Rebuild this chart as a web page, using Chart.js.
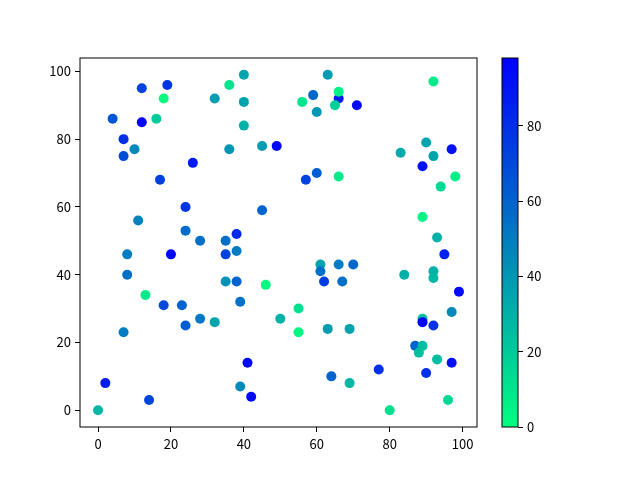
<!DOCTYPE html>
<html>
<head>
<meta charset="utf-8">
<script src="https://cdn.jsdelivr.net/npm/chart.js@4/dist/chart.umd.min.js"></script>
<style>
  body { margin:0; background:#fff; }
  #wrap { position:relative; width:640px; height:480px; }
  canvas { position:absolute; top:0; }
</style>
</head>
<body>
<div id="wrap">
  <canvas id="main" width="640" height="480" style="left:0"></canvas>
  <canvas id="cbar" width="150" height="480" style="left:490px"></canvas>
</div>
<script>
// scatter data
var xs = [40,36,19,12,18,32,40,4,12,16,40,7,10,7,36,45,49,26,17,24,45,11,24,28,35,38,
          63,92,66,66,59,56,65,60,71,90,83,92,97,89,60,57,66,98,94,89,93,
          35,38,8,20,8,35,38,46,13,39,18,23,28,32,24,7,50,41,2,39,14,42,0,
          95,61,66,70,61,84,92,92,62,67,99,55,97,89,89,92,55,63,69,87,89,88,93,97,77,90,64,69,96,80];
var ys = [99,96,96,95,92,92,91,86,85,86,84,80,77,75,77,78,78,73,68,60,59,56,53,50,50,52,
          99,97,92,94,93,91,90,88,90,79,76,75,77,72,70,68,69,69,66,57,51,
          46,47,46,46,40,38,38,37,34,32,31,31,27,26,25,23,27,14,8,7,3,4,0,
          46,43,43,43,41,40,41,39,38,38,35,30,29,27,26,25,23,24,24,19,19,17,15,14,12,11,10,8,3,0];
var cs = [35,10,78,72,2,38,35,65,97,20,30,80,45,68,40,38,95,88,73,78,60,48,57,55,55,82,
          38,8,88,5,58,10,18,40,95,35,33,35,92,92,62,72,8,6,15,4,30,
          72,50,50,97,55,42,60,2,8,55,70,60,52,35,62,50,30,95,88,45,72,95,28,
          85,35,50,58,55,30,30,28,75,55,95,12,45,25,98,78,3,38,35,60,25,25,25,92,80,80,60,28,15,12];
var tickVals = [0,20,40,60,80,100];
var cbarTicks = [0,20,40,60,80];
var cMin = 0, cMax = 98;

var fontFam = "'Noto Sans CJK SC', 'Noto Sans', sans-serif";

// matplotlib "winter": green -> blue
function winter(c){
  var t = (c - cMin)/(cMax - cMin);
  return 'rgb(0,' + Math.round(255*(1-t)) + ',' + Math.round(255*(0.5+0.5*t)) + ')';
}

var pts = [];
for(let i=0;i<xs.length;i++){
  pts.push({x: xs[i], y: ys[i]});
}
var colors = cs.map(winter);

const boxPlugin = {
  id: 'box',
  afterDraw(chart){
    const a = chart.chartArea, ctx = chart.ctx;
    ctx.save();
    ctx.strokeStyle = '#000';
    ctx.lineWidth = 1;
    ctx.strokeRect(a.left, a.top, a.right - a.left, a.bottom - a.top);
    ctx.restore();
  }
};

function fixTicks(vals){
  return function(scale){
    scale.ticks = vals.map(v => ({value: v}));
  };
}

new Chart(document.getElementById('main'), {
  type: 'scatter',
  data: {
    datasets: [{
      data: pts,
      pointBackgroundColor: colors,
      pointBorderColor: colors,
      pointBorderWidth: 0,
      pointRadius: 5,
      pointHoverRadius: 5
    }]
  },
  options: {
    responsive: false,
    animation: false,
    devicePixelRatio: 1,
    layout: { padding: { left: 30, top: 58, right: 163, bottom: 13 } },
    plugins: { legend: { display: false }, tooltip: { enabled: false } },
    scales: {
      x: {
        type: 'linear', min: -4.95, max: 103.95,
        afterBuildTicks: fixTicks(tickVals),
        afterFit: function(s){ s.height = 40; },
        grid: { drawOnChartArea: false, tickLength: 5, color: '#000' },
        border: { display: false },
        ticks: { color: '#000', padding: 4, font: { family: fontFam, size: 13 } }
      },
      y: {
        type: 'linear', min: -4.95, max: 103.95,
        afterBuildTicks: fixTicks(tickVals),
        afterFit: function(s){ s.width = 50; },
        grid: { drawOnChartArea: false, tickLength: 5, color: '#000' },
        border: { display: false },
        ticks: { color: '#000', padding: 4, font: { family: fontFam, size: 13 } }
      }
    }
  },
  plugins: [boxPlugin]
});

// colorbar
const gradPlugin = {
  id: 'grad',
  beforeDatasetsDraw(chart){
    const a = chart.chartArea, ctx = chart.ctx, sc = chart.scales.y;
    const g = ctx.createLinearGradient(0, sc.getPixelForValue(cMin), 0, sc.getPixelForValue(cMax));
    g.addColorStop(0, winter(cMin));
    g.addColorStop(1, winter(cMax));
    ctx.save();
    ctx.fillStyle = g;
    ctx.fillRect(a.left, a.top, a.right - a.left, a.bottom - a.top);
    ctx.restore();
  }
};

new Chart(document.getElementById('cbar'), {
  type: 'scatter',
  data: { datasets: [{ data: [] }] },
  options: {
    responsive: false,
    animation: false,
    devicePixelRatio: 1,
    layout: { padding: { left: 12, top: 58, right: 82, bottom: 53 } },
    plugins: { legend: { display: false }, tooltip: { enabled: false } },
    scales: {
      x: { type: 'linear', min: 0, max: 1, display: false },
      y: {
        type: 'linear', position: 'right', min: cMin, max: cMax,
        afterBuildTicks: fixTicks(cbarTicks),
        afterFit: function(s){ s.width = 40; },
        grid: { drawOnChartArea: false, tickLength: 5, color: '#000' },
        border: { display: false },
        ticks: { color: '#000', padding: 4, font: { family: fontFam, size: 13 } }
      }
    }
  },
  plugins: [gradPlugin, boxPlugin]
});
</script>
</body>
</html>
